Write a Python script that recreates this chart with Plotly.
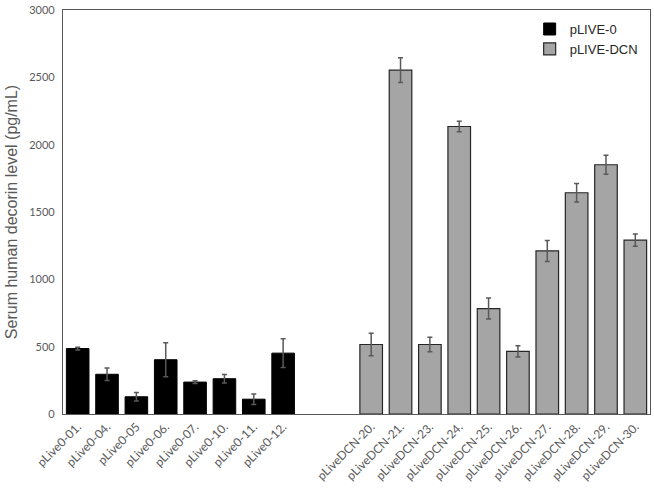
import plotly.graph_objects as go

# sample names and serum decorin (pg/mL), mean +/- error
ctrl_names = ["pLive0-01.", "pLive0-04.", "pLive0-05", "pLive0-06.",
              "pLive0-07.", "pLive0-10.", "pLive0-11.", "pLive0-12."]
ctrl_vals = [486, 295, 128, 403, 237, 262, 110, 452]
ctrl_err = [10, 46, 32, 126, 10, 32, 39, 106]

dcn_names = ["pLiveDCN-20.", "pLiveDCN-21.", "pLiveDCN-23.", "pLiveDCN-24.",
             "pLiveDCN-25.", "pLiveDCN-26.", "pLiveDCN-27.", "pLiveDCN-28.",
             "pLiveDCN-29.", "pLiveDCN-30."]
dcn_vals = [516, 2553, 516, 2135, 783, 465, 1211, 1643, 1851, 1291]
dcn_err = [83, 92, 53, 39, 78, 42, 78, 68, 70, 46]

gap = [" ", "  "]  # two empty slots between groups
order = ctrl_names + gap + dcn_names

AXIS_C = "#595959"

fig = go.Figure()
fig.add_bar(x=ctrl_names, y=ctrl_vals, name="pLIVE-0", width=0.77,
            marker=dict(color="#000000", line=dict(color="#000000", width=1)),
            error_y=dict(type="data", array=ctrl_err, color=AXIS_C, thickness=1.5, width=2.5))
fig.add_bar(x=dcn_names, y=dcn_vals, name="pLIVE-DCN", width=0.77,
            marker=dict(color="#a5a5a5", line=dict(color="#262626", width=1.2)),
            error_y=dict(type="data", array=dcn_err, color=AXIS_C, thickness=1.5, width=2.5))

fig.update_layout(
    width=654, height=496, barmode="overlay",
    paper_bgcolor="white", plot_bgcolor="white",
    margin=dict(l=63, r=3, t=5, b=82),
    font=dict(family="Lato, Liberation Sans, sans-serif", color=AXIS_C),
    legend=dict(x=0.795, y=0.99, xanchor="left", yanchor="top",
                font=dict(family="Liberation Sans, Arial", size=13, color="#262626"),
                bgcolor="rgba(0,0,0,0)", tracegroupgap=0),
    xaxis=dict(categoryorder="array", categoryarray=order, tickangle=-45,
               tickfont=dict(size=12, color=AXIS_C), showline=True, linecolor=AXIS_C,
               linewidth=1.2, mirror=True, ticks="", showgrid=False),
    yaxis=dict(range=[0, 3000], tickvals=[0, 500, 1000, 1500, 2000, 2500, 3000],
               showgrid=False, zeroline=False, ticklabeloverflow="allow",
               ticklabelstandoff=5,
               showline=True, linecolor=AXIS_C, linewidth=1.2, mirror=True, ticks="",
               tickfont=dict(size=11, color=AXIS_C),
               title=dict(text="Serum human decorin level (pg/mL)", standoff=7,
                          font=dict(family="Liberation Sans, Arial", size=16, color=AXIS_C))),
)

# default page margin would shift the figure by 8px
fig.write_html("out.html", config={"displayModeBar": False},
               post_script="document.body.style.margin='0';")
